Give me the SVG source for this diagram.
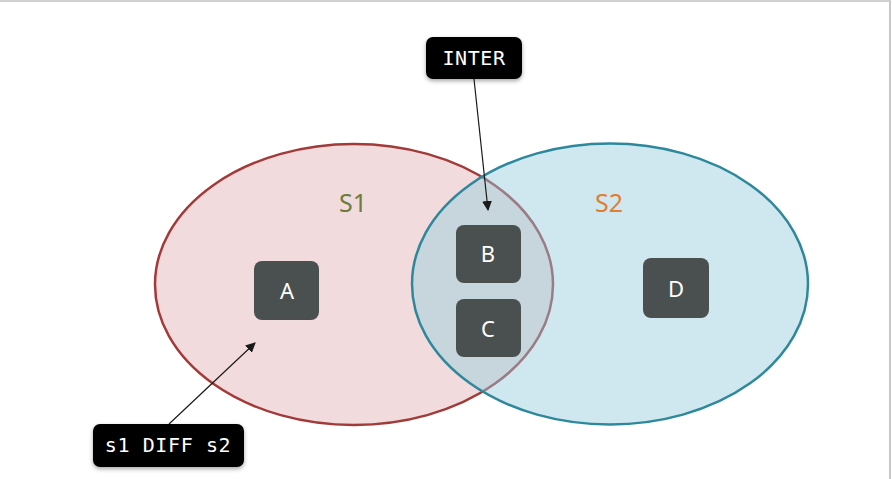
<svg xmlns="http://www.w3.org/2000/svg" width="892" height="479" viewBox="0 0 892 479">
<style>
.node rect{fill:#4a5050;}
.node text{fill:#ffffff;font-family:"Noto Sans","Open Sans",sans-serif;font-size:22px;text-anchor:middle;}
.tag rect{fill:#000000;filter:url(#sh);}
.tag text{fill:#ffffff;font-family:"DejaVu Sans Mono","Liberation Mono",monospace;font-size:20px;letter-spacing:0.6px;text-anchor:middle;}
.setlabel{font-family:"Noto Sans","Open Sans",sans-serif;font-size:25px;text-anchor:middle;}
.conn line{stroke:#1a1a1a;stroke-width:1.2;marker-end:url(#ah);}
</style>
<defs>
<marker id="ah" viewBox="0 0 10 10" refX="9" refY="5" markerWidth="10" markerHeight="10" markerUnits="userSpaceOnUse" orient="auto">
<path d="M0,0 L10,5 L0,10 z" fill="#1a1a1a"/>
</marker>
<filter id="sh" x="-20%" y="-30%" width="140%" height="170%">
<feDropShadow dx="0" dy="2" stdDeviation="2" flood-color="#000" flood-opacity="0.35"/>
</filter>
<clipPath id="c2"><ellipse cx="610" cy="284" rx="198" ry="140.5"/></clipPath>
</defs>
<rect x="0" y="0" width="892" height="479" fill="#ffffff"/>
<line x1="0" y1="1" x2="891" y2="1" stroke="#d0d0d0" stroke-width="2"/>
<line x1="890" y1="1" x2="890" y2="479" stroke="#c8c8c8" stroke-width="2"/>

<g id="S1">
<ellipse cx="354" cy="284.5" rx="199" ry="140.5" fill="#f2dbdc" stroke="#a33a3a" stroke-width="2.5"/>
<text class="setlabel" x="353" y="212" fill="#6a7d3e">S1</text>
</g>
<g id="S2">
<ellipse cx="610" cy="284" rx="198" ry="140.5" fill="#cfe7ee"/>
<g clip-path="url(#c2)">
<ellipse cx="354" cy="284.5" rx="199" ry="140.5" fill="#c7d5dc" stroke="#9a7c86" stroke-width="2.5"/>
</g>
<ellipse cx="610" cy="284" rx="198" ry="140.5" fill="none" stroke="#2e889c" stroke-width="2.5"/>
<text class="setlabel" x="609" y="212" fill="#e0802e">S2</text>
</g>

<g id="A" class="node"><rect x="254" y="261" width="65" height="59" rx="8"/><text x="287" y="299">A</text></g>
<g id="B" class="node"><rect x="456" y="225" width="65" height="58" rx="8"/><text x="488" y="262">B</text></g>
<g id="C" class="node"><rect x="456" y="299" width="65" height="58" rx="8"/><text x="488" y="337">C</text></g>
<g id="D" class="node"><rect x="643" y="258" width="66" height="60" rx="8"/><text x="676" y="297">D</text></g>

<g id="INTER" class="tag"><rect x="426" y="37" width="96" height="42" rx="7"/><text x="474" y="65">INTER</text></g>
<g id="DIFF" class="tag"><rect x="93" y="424" width="151" height="43" rx="7"/><text x="168" y="452">s1 DIFF s2</text></g>

<g id="connectors" class="conn">
<line x1="474" y1="79" x2="488" y2="210"/>
<line x1="169" y1="424" x2="255" y2="343"/>
</g>
</svg>
